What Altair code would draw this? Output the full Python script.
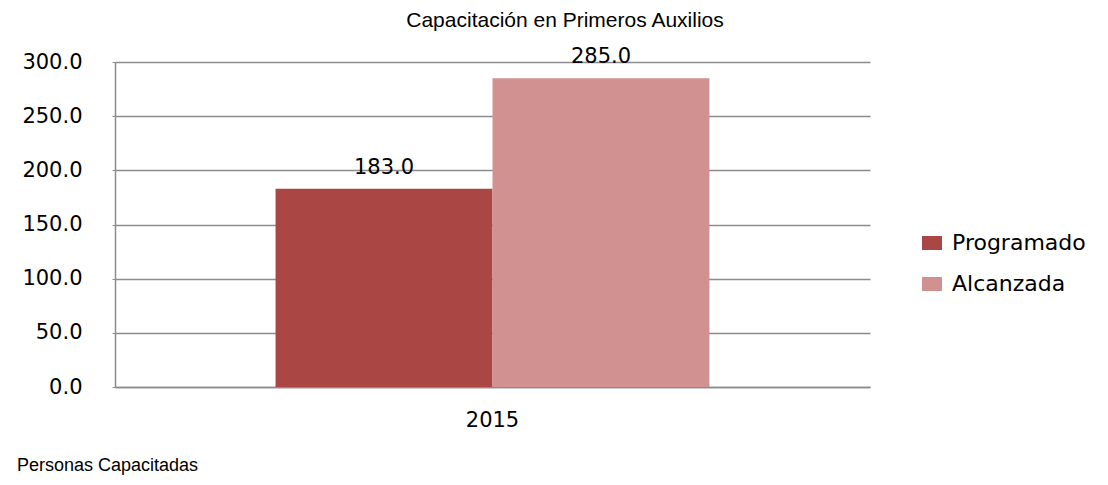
import altair as alt
import pandas as pd

years = ["2015", "2015"]
series = ["Programado", "Alcanzada"]
values = [183.0, 285.0]
colors = ["#AA4745", "#D19191"]
title_text = ["Capacitación en Primeros Auxilios"]
footer_text = ["Personas Capacitadas"]
y_ticks = [0, 50, 100, 150, 200, 250, 300]

df = pd.DataFrame({"year": years, "series": series, "value": values})

W, H = 755, 325
FS = 21

base = alt.Chart(df).encode(
    x=alt.X("year:N", title=None,
            scale=alt.Scale(paddingOuter=0.37, paddingInner=0),
            axis=alt.Axis(labelAngle=0, labelFontSize=FS, labelFont="DejaVu Sans",
                          labelColor="#000000", ticks=False, labelPadding=22,
                          domainColor="#8c8c8c", domainWidth=1.5)),
    xOffset=alt.XOffset("series:N", sort=series, scale=alt.Scale(paddingInner=0, paddingOuter=0)),
)

bars = base.mark_bar().encode(
    y=alt.Y("value:Q", title=None,
            scale=alt.Scale(domain=[0, 300], nice=False),
            axis=alt.Axis(values=y_ticks, format=".1f", labelFontSize=FS,
                          labelFont="DejaVu Sans", labelColor="#000000",
                          labelPadding=30, tickSize=3, tickColor="#8c8c8c",
                          domainColor="#8c8c8c", domainWidth=1.5,
                          gridColor="#8c8c8c", gridWidth=1.5)),
    color=alt.Color("series:N", sort=series,
                    scale=alt.Scale(domain=series, range=colors),
                    legend=alt.Legend(title=None, orient="none", legendX=806, legendY=170,
                                      labelFontSize=22, labelFont="DejaVu Sans",
                                      labelColor="#000000", symbolType="M-1,-0.7L1,-0.7L1,0.7L-1,0.7Z",
                                      symbolSize=400, symbolStrokeWidth=0,
                                      labelOffset=9, rowPadding=19, padding=0)),
)

labels = base.mark_text(fontSize=FS, font="DejaVu Sans", color="#000000",
                        baseline="alphabetic", dy=-15).encode(
    y=alt.Y("value:Q"),
    text=alt.Text("value:Q", format=".1f"),
)

title = alt.Chart(pd.DataFrame({"t": title_text})).mark_text(
    fontSize=21, font="Liberation Sans", color="#000000", align="center", baseline="middle"
).encode(x=alt.value(450), y=alt.value(-41), text="t:N")

footer = alt.Chart(pd.DataFrame({"t": footer_text})).mark_text(
    fontSize=18, font="Liberation Sans", color="#000000", align="left", baseline="alphabetic"
).encode(x=alt.value(-98), y=alt.value(409), text="t:N")

chart = alt.layer(bars, labels, title, footer).properties(
    width=W, height=H,
    autosize=alt.AutoSizeParams(type="none"),
    padding={"left": 107, "top": 54, "right": 230, "bottom": 90},
).configure_view(stroke=None).configure_axis(grid=False).configure_axisY(grid=True)

chart.save("out.html", embed_options={"renderer": "svg", "actions": False})
